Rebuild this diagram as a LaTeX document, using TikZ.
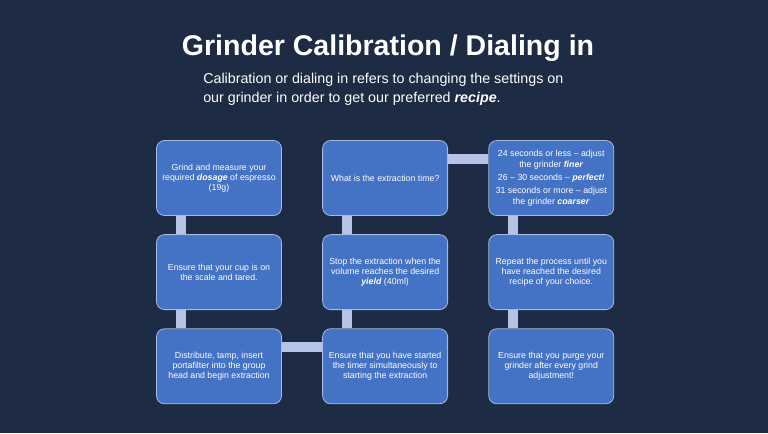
\documentclass[tikz,border=0pt]{standalone}
\usepackage{fontspec}
\setmainfont{Liberation Sans}
\usetikzlibrary{positioning}
\definecolor{slidebg}{HTML}{1D2B45}
\definecolor{boxblue}{HTML}{4472C4}
\definecolor{boxedge}{HTML}{A8B9DD}
\definecolor{linkcol}{HTML}{B4C3E6}

\begin{document}
\begin{tikzpicture}[x=0.75pt, y=-0.75pt, node distance=13.75pt and 30.25pt,
    every node/.style={text=white, font=\fontsize{6.6}{7.6}\selectfont},
    stepbox/.style={draw=boxedge, line width=0.6pt, rounded corners=6pt, fill=boxblue,
      minimum width=93.75pt, minimum height=56.25pt, align=center, inner sep=2pt},
    link/.style={draw=linkcol, line width=7.5pt}]
    \fill[slidebg] (0,0) rectangle (768,433);
    \useasboundingbox (0,0) rectangle (768,433);
    \node (title) [font=\fontsize{21.4}{24}\selectfont\bfseries] at (388,48) {Grinder Calibration / Dialing in};
    \node (intro) [anchor=west, align=left, inner sep=0pt, font=\fontsize{10.7}{14.25}\selectfont] at (203,89) {Calibration or dialing in refers to changing the settings on\\our grinder in order to get our preferred \textbf{\textit{recipe}}.};

    \node (grind) [stepbox] at (219,178) {Grind and measure your\\required \textbf{\textit{dosage}} of espresso\\(19g)};
    \node (cup) [stepbox, below=of grind] {Ensure that your cup is on\\the scale and tared.};
    \node (tamp) [stepbox, below=of cup] {Distribute, tamp, insert\\portafilter into the group\\head and begin extraction};
    \node (timer) [stepbox, right=of tamp] {Ensure that you have started\\the timer simultaneously to\\starting the extraction};
    \node (stop) [stepbox, above=of timer] {Stop the extraction when the\\volume reaches the desired\\\textbf{\textit{yield}} (40ml)};
    \node (time) [stepbox, above=of stop] {What is the extraction time?};
    \node (adjust) [stepbox, right=of time, font=\fontsize{6.6}{8.6}\selectfont] {24 seconds or less -- adjust\\the grinder \textbf{\textit{finer}}\\[1pt]26 -- 30 seconds -- \textbf{\textit{perfect!}}\\[1pt]31 seconds or more -- adjust\\the grinder \textbf{\textit{coarser}}};
    \node (repeat) [stepbox, below=of adjust] {Repeat the process until you\\have reached the desired\\recipe of your choice.};
    \node (purge) [stepbox, below=of repeat] {Ensure that you purge your\\grinder after every grind\\adjustment!};

    % connecting bars
    \draw[link] ([xshift=-28.5pt]grind.south) -- ([xshift=-28.5pt]cup.north);
    \draw[link] ([xshift=-28.5pt]cup.south) -- ([xshift=-28.5pt]tamp.north);
    \draw[link] ([yshift=14.25pt]tamp.east) -- ([yshift=14.25pt]timer.west);
    \draw[link] ([xshift=-28.5pt]timer.north) -- ([xshift=-28.5pt]stop.south);
    \draw[link] ([xshift=-28.5pt]stop.north) -- ([xshift=-28.5pt]time.south);
    \draw[link] ([yshift=14.25pt]time.east) -- ([yshift=14.25pt]adjust.west);
    \draw[link] ([xshift=-28.5pt]adjust.south) -- ([xshift=-28.5pt]repeat.north);
    \draw[link] ([xshift=-28.5pt]repeat.south) -- ([xshift=-28.5pt]purge.north);
\end{tikzpicture}
\end{document}
